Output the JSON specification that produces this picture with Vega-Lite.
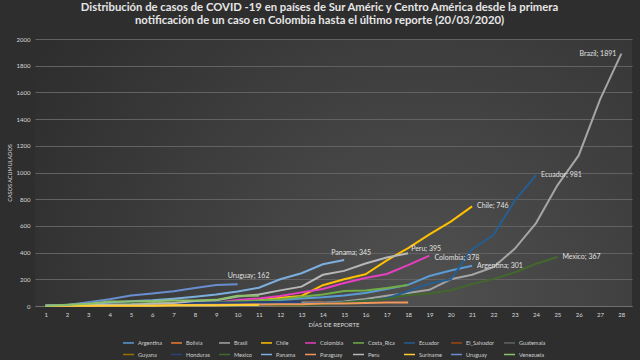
{
"$schema": "https://vega.github.io/schema/vega-lite/v6.json",
"width": 597,
"height": 267,
"autosize": {"type": "none"},
"padding": {"left": 35, "top": 39, "right": 8, "bottom": 54},
"background": "#2e2e2e",
"title": {"text": ["Distribución de casos de COVID -19 en países de Sur  Améric y Centro América desde la primera", "notificación de un caso en Colombia hasta el último reporte (20/03/2020)"], "color": "#e6e6e6", "font": "Lato", "fontSize": 11.3, "fontWeight": "bold", "anchor": "middle", "offset": 10, "dx": -14, "lineHeight": 13},
"config": {
  "view": {"stroke": null, "fill": {"gradient": "radial", "x1": 0.65, "y1": 0.7, "r1": 0, "x2": 0.65, "y2": 0.7, "r2": 0.75, "stops": [{"offset": 0, "color": "#505050"}, {"offset": 1, "color": "#2e2e2e"}]}},
  "font": "Lato"
},
"datasets": {
"serie": [
{"pais":"Argentina","dia":1,"casos":1},{"pais":"Argentina","dia":2,"casos":1},{"pais":"Argentina","dia":3,"casos":2},{"pais":"Argentina","dia":4,"casos":8},{"pais":"Argentina","dia":5,"casos":9},{"pais":"Argentina","dia":6,"casos":12},{"pais":"Argentina","dia":7,"casos":17},{"pais":"Argentina","dia":8,"casos":19},{"pais":"Argentina","dia":9,"casos":21},{"pais":"Argentina","dia":10,"casos":31},{"pais":"Argentina","dia":11,"casos":34},{"pais":"Argentina","dia":12,"casos":45},{"pais":"Argentina","dia":13,"casos":56},{"pais":"Argentina","dia":14,"casos":65},{"pais":"Argentina","dia":15,"casos":79},{"pais":"Argentina","dia":16,"casos":97},{"pais":"Argentina","dia":17,"casos":128},{"pais":"Argentina","dia":18,"casos":158},{"pais":"Argentina","dia":19,"casos":225},{"pais":"Argentina","dia":20,"casos":266},{"pais":"Argentina","dia":21,"casos":301},
{"pais":"Bolivia","dia":1,"casos":2},{"pais":"Bolivia","dia":2,"casos":2},{"pais":"Bolivia","dia":3,"casos":3},{"pais":"Bolivia","dia":4,"casos":10},{"pais":"Bolivia","dia":5,"casos":10},{"pais":"Bolivia","dia":6,"casos":10},{"pais":"Bolivia","dia":7,"casos":11},{"pais":"Bolivia","dia":8,"casos":11},{"pais":"Bolivia","dia":9,"casos":12},{"pais":"Bolivia","dia":10,"casos":15},{"pais":"Bolivia","dia":11,"casos":19},{"pais":"Bolivia","dia":12,"casos":19},{"pais":"Bolivia","dia":13,"casos":24},{"pais":"Bolivia","dia":14,"casos":27},
{"pais":"Brasil","dia":1,"casos":1},{"pais":"Brasil","dia":2,"casos":1},{"pais":"Brasil","dia":3,"casos":1},{"pais":"Brasil","dia":4,"casos":1},{"pais":"Brasil","dia":5,"casos":2},{"pais":"Brasil","dia":6,"casos":2},{"pais":"Brasil","dia":7,"casos":2},{"pais":"Brasil","dia":8,"casos":2},{"pais":"Brasil","dia":9,"casos":3},{"pais":"Brasil","dia":10,"casos":8},{"pais":"Brasil","dia":11,"casos":13},{"pais":"Brasil","dia":12,"casos":19},{"pais":"Brasil","dia":13,"casos":25},{"pais":"Brasil","dia":14,"casos":25},{"pais":"Brasil","dia":15,"casos":34},{"pais":"Brasil","dia":16,"casos":52},{"pais":"Brasil","dia":17,"casos":77},{"pais":"Brasil","dia":18,"casos":98},{"pais":"Brasil","dia":19,"casos":121},{"pais":"Brasil","dia":20,"casos":200},{"pais":"Brasil","dia":21,"casos":234},{"pais":"Brasil","dia":22,"casos":291},{"pais":"Brasil","dia":23,"casos":428},{"pais":"Brasil","dia":24,"casos":621},{"pais":"Brasil","dia":25,"casos":904},{"pais":"Brasil","dia":26,"casos":1128},{"pais":"Brasil","dia":27,"casos":1546},{"pais":"Brasil","dia":28,"casos":1891},
{"pais":"Chile","dia":1,"casos":1},{"pais":"Chile","dia":2,"casos":3},{"pais":"Chile","dia":3,"casos":4},{"pais":"Chile","dia":4,"casos":5},{"pais":"Chile","dia":5,"casos":7},{"pais":"Chile","dia":6,"casos":10},{"pais":"Chile","dia":7,"casos":13},{"pais":"Chile","dia":8,"casos":17},{"pais":"Chile","dia":9,"casos":23},{"pais":"Chile","dia":10,"casos":33},{"pais":"Chile","dia":11,"casos":43},{"pais":"Chile","dia":12,"casos":61},{"pais":"Chile","dia":13,"casos":75},{"pais":"Chile","dia":14,"casos":156},{"pais":"Chile","dia":15,"casos":201},{"pais":"Chile","dia":16,"casos":238},{"pais":"Chile","dia":17,"casos":342},{"pais":"Chile","dia":18,"casos":434},{"pais":"Chile","dia":19,"casos":537},{"pais":"Chile","dia":20,"casos":632},{"pais":"Chile","dia":21,"casos":746},
{"pais":"Colombia","dia":1,"casos":1},{"pais":"Colombia","dia":2,"casos":1},{"pais":"Colombia","dia":3,"casos":1},{"pais":"Colombia","dia":4,"casos":3},{"pais":"Colombia","dia":5,"casos":3},{"pais":"Colombia","dia":6,"casos":9},{"pais":"Colombia","dia":7,"casos":9},{"pais":"Colombia","dia":8,"casos":16},{"pais":"Colombia","dia":9,"casos":24},{"pais":"Colombia","dia":10,"casos":45},{"pais":"Colombia","dia":11,"casos":57},{"pais":"Colombia","dia":12,"casos":75},{"pais":"Colombia","dia":13,"casos":102},{"pais":"Colombia","dia":14,"casos":128},{"pais":"Colombia","dia":15,"casos":172},{"pais":"Colombia","dia":16,"casos":210},{"pais":"Colombia","dia":17,"casos":240},{"pais":"Colombia","dia":18,"casos":306},{"pais":"Colombia","dia":19,"casos":378},
{"pais":"Costa_Rica","dia":1,"casos":1},{"pais":"Costa_Rica","dia":2,"casos":5},{"pais":"Costa_Rica","dia":3,"casos":9},{"pais":"Costa_Rica","dia":4,"casos":9},{"pais":"Costa_Rica","dia":5,"casos":13},{"pais":"Costa_Rica","dia":6,"casos":22},{"pais":"Costa_Rica","dia":7,"casos":23},{"pais":"Costa_Rica","dia":8,"casos":26},{"pais":"Costa_Rica","dia":9,"casos":27},{"pais":"Costa_Rica","dia":10,"casos":35},{"pais":"Costa_Rica","dia":11,"casos":41},{"pais":"Costa_Rica","dia":12,"casos":50},{"pais":"Costa_Rica","dia":13,"casos":69},{"pais":"Costa_Rica","dia":14,"casos":87},{"pais":"Costa_Rica","dia":15,"casos":113},{"pais":"Costa_Rica","dia":16,"casos":117},{"pais":"Costa_Rica","dia":17,"casos":134},{"pais":"Costa_Rica","dia":18,"casos":158},
{"pais":"Ecuador","dia":1,"casos":1},{"pais":"Ecuador","dia":2,"casos":6},{"pais":"Ecuador","dia":3,"casos":7},{"pais":"Ecuador","dia":4,"casos":7},{"pais":"Ecuador","dia":5,"casos":10},{"pais":"Ecuador","dia":6,"casos":13},{"pais":"Ecuador","dia":7,"casos":13},{"pais":"Ecuador","dia":8,"casos":14},{"pais":"Ecuador","dia":9,"casos":15},{"pais":"Ecuador","dia":10,"casos":15},{"pais":"Ecuador","dia":11,"casos":15},{"pais":"Ecuador","dia":12,"casos":17},{"pais":"Ecuador","dia":13,"casos":17},{"pais":"Ecuador","dia":14,"casos":23},{"pais":"Ecuador","dia":15,"casos":28},{"pais":"Ecuador","dia":16,"casos":37},{"pais":"Ecuador","dia":17,"casos":58},{"pais":"Ecuador","dia":18,"casos":111},{"pais":"Ecuador","dia":19,"casos":168},{"pais":"Ecuador","dia":20,"casos":199},{"pais":"Ecuador","dia":21,"casos":426},{"pais":"Ecuador","dia":22,"casos":532},{"pais":"Ecuador","dia":23,"casos":789},{"pais":"Ecuador","dia":24,"casos":981},
{"pais":"El_Salvador","dia":1,"casos":1},{"pais":"El_Salvador","dia":2,"casos":1},{"pais":"El_Salvador","dia":3,"casos":3},{"pais":"El_Salvador","dia":4,"casos":3},{"pais":"El_Salvador","dia":5,"casos":5},{"pais":"El_Salvador","dia":6,"casos":5},
{"pais":"Guatemala","dia":1,"casos":1},{"pais":"Guatemala","dia":2,"casos":1},{"pais":"Guatemala","dia":3,"casos":2},{"pais":"Guatemala","dia":4,"casos":6},{"pais":"Guatemala","dia":5,"casos":6},{"pais":"Guatemala","dia":6,"casos":9},{"pais":"Guatemala","dia":7,"casos":12},{"pais":"Guatemala","dia":8,"casos":17},{"pais":"Guatemala","dia":9,"casos":19},{"pais":"Guatemala","dia":10,"casos":20},{"pais":"Guatemala","dia":11,"casos":21},
{"pais":"Guyana","dia":1,"casos":1},{"pais":"Guyana","dia":2,"casos":1},{"pais":"Guyana","dia":3,"casos":1},{"pais":"Guyana","dia":4,"casos":1},{"pais":"Guyana","dia":5,"casos":1},{"pais":"Guyana","dia":6,"casos":4},{"pais":"Guyana","dia":7,"casos":4},{"pais":"Guyana","dia":8,"casos":7},{"pais":"Guyana","dia":9,"casos":7},{"pais":"Guyana","dia":10,"casos":7},{"pais":"Guyana","dia":11,"casos":7},{"pais":"Guyana","dia":12,"casos":5},{"pais":"Guyana","dia":13,"casos":5},
{"pais":"Honduras","dia":1,"casos":2},{"pais":"Honduras","dia":2,"casos":2},{"pais":"Honduras","dia":3,"casos":3},{"pais":"Honduras","dia":4,"casos":6},{"pais":"Honduras","dia":5,"casos":8},{"pais":"Honduras","dia":6,"casos":9},{"pais":"Honduras","dia":7,"casos":12},{"pais":"Honduras","dia":8,"casos":24},{"pais":"Honduras","dia":9,"casos":26},{"pais":"Honduras","dia":10,"casos":26},{"pais":"Honduras","dia":11,"casos":30},{"pais":"Honduras","dia":12,"casos":30},{"pais":"Honduras","dia":13,"casos":30},
{"pais":"Mexico","dia":1,"casos":2},{"pais":"Mexico","dia":2,"casos":4},{"pais":"Mexico","dia":3,"casos":5},{"pais":"Mexico","dia":4,"casos":5},{"pais":"Mexico","dia":5,"casos":5},{"pais":"Mexico","dia":6,"casos":5},{"pais":"Mexico","dia":7,"casos":5},{"pais":"Mexico","dia":8,"casos":6},{"pais":"Mexico","dia":9,"casos":6},{"pais":"Mexico","dia":10,"casos":7},{"pais":"Mexico","dia":11,"casos":7},{"pais":"Mexico","dia":12,"casos":7},{"pais":"Mexico","dia":13,"casos":8},{"pais":"Mexico","dia":14,"casos":12},{"pais":"Mexico","dia":15,"casos":26},{"pais":"Mexico","dia":16,"casos":41},{"pais":"Mexico","dia":17,"casos":53},{"pais":"Mexico","dia":18,"casos":82},{"pais":"Mexico","dia":19,"casos":93},{"pais":"Mexico","dia":20,"casos":118},{"pais":"Mexico","dia":21,"casos":164},{"pais":"Mexico","dia":22,"casos":203},{"pais":"Mexico","dia":23,"casos":251},{"pais":"Mexico","dia":24,"casos":316},{"pais":"Mexico","dia":25,"casos":367},
{"pais":"Panama","dia":1,"casos":1},{"pais":"Panama","dia":2,"casos":8},{"pais":"Panama","dia":3,"casos":14},{"pais":"Panama","dia":4,"casos":27},{"pais":"Panama","dia":5,"casos":36},{"pais":"Panama","dia":6,"casos":43},{"pais":"Panama","dia":7,"casos":55},{"pais":"Panama","dia":8,"casos":69},{"pais":"Panama","dia":9,"casos":86},{"pais":"Panama","dia":10,"casos":109},{"pais":"Panama","dia":11,"casos":137},{"pais":"Panama","dia":12,"casos":200},{"pais":"Panama","dia":13,"casos":245},{"pais":"Panama","dia":14,"casos":313},{"pais":"Panama","dia":15,"casos":345},
{"pais":"Paraguay","dia":1,"casos":1},{"pais":"Paraguay","dia":2,"casos":1},{"pais":"Paraguay","dia":3,"casos":1},{"pais":"Paraguay","dia":4,"casos":5},{"pais":"Paraguay","dia":5,"casos":5},{"pais":"Paraguay","dia":6,"casos":5},{"pais":"Paraguay","dia":7,"casos":6},{"pais":"Paraguay","dia":8,"casos":7},{"pais":"Paraguay","dia":9,"casos":8},{"pais":"Paraguay","dia":10,"casos":9},{"pais":"Paraguay","dia":11,"casos":11},{"pais":"Paraguay","dia":12,"casos":13},{"pais":"Paraguay","dia":13,"casos":13},{"pais":"Paraguay","dia":14,"casos":18},{"pais":"Paraguay","dia":15,"casos":18},{"pais":"Paraguay","dia":16,"casos":22},{"pais":"Paraguay","dia":17,"casos":27},{"pais":"Paraguay","dia":18,"casos":27},
{"pais":"Peru","dia":1,"casos":1},{"pais":"Peru","dia":2,"casos":6},{"pais":"Peru","dia":3,"casos":7},{"pais":"Peru","dia":4,"casos":9},{"pais":"Peru","dia":5,"casos":11},{"pais":"Peru","dia":6,"casos":17},{"pais":"Peru","dia":7,"casos":22},{"pais":"Peru","dia":8,"casos":38},{"pais":"Peru","dia":9,"casos":43},{"pais":"Peru","dia":10,"casos":71},{"pais":"Peru","dia":11,"casos":86},{"pais":"Peru","dia":12,"casos":117},{"pais":"Peru","dia":13,"casos":145},{"pais":"Peru","dia":14,"casos":234},{"pais":"Peru","dia":15,"casos":263},{"pais":"Peru","dia":16,"casos":318},{"pais":"Peru","dia":17,"casos":363},{"pais":"Peru","dia":18,"casos":395},
{"pais":"Suriname","dia":1,"casos":1},{"pais":"Suriname","dia":2,"casos":1},{"pais":"Suriname","dia":3,"casos":1},{"pais":"Suriname","dia":4,"casos":1},{"pais":"Suriname","dia":5,"casos":1},{"pais":"Suriname","dia":6,"casos":1},{"pais":"Suriname","dia":7,"casos":5},{"pais":"Suriname","dia":8,"casos":5},{"pais":"Suriname","dia":9,"casos":5},{"pais":"Suriname","dia":10,"casos":8},{"pais":"Suriname","dia":11,"casos":8},
{"pais":"Uruguay","dia":1,"casos":6},{"pais":"Uruguay","dia":2,"casos":8},{"pais":"Uruguay","dia":3,"casos":29},{"pais":"Uruguay","dia":4,"casos":50},{"pais":"Uruguay","dia":5,"casos":79},{"pais":"Uruguay","dia":6,"casos":94},{"pais":"Uruguay","dia":7,"casos":110},{"pais":"Uruguay","dia":8,"casos":135},{"pais":"Uruguay","dia":9,"casos":158},{"pais":"Uruguay","dia":10,"casos":162},
{"pais":"Venezuela","dia":1,"casos":2},{"pais":"Venezuela","dia":2,"casos":10},{"pais":"Venezuela","dia":3,"casos":17},{"pais":"Venezuela","dia":4,"casos":33},{"pais":"Venezuela","dia":5,"casos":33},{"pais":"Venezuela","dia":6,"casos":36},{"pais":"Venezuela","dia":7,"casos":42},{"pais":"Venezuela","dia":8,"casos":42},{"pais":"Venezuela","dia":9,"casos":46},{"pais":"Venezuela","dia":10,"casos":77},{"pais":"Venezuela","dia":11,"casos":77}
],
"etiquetas": [
{"pais":"Brasil","dia":28,"casos":1891,"etiqueta":"Brazil; 1891"},
{"pais":"Ecuador","dia":24,"casos":981,"etiqueta":"Ecuador; 981"},
{"pais":"Chile","dia":21,"casos":746,"etiqueta":"Chile; 746"},
{"pais":"Peru","dia":18,"casos":395,"etiqueta":"Peru; 395"},
{"pais":"Colombia","dia":19,"casos":378,"etiqueta":"Colombia; 378"},
{"pais":"Mexico","dia":25,"casos":367,"etiqueta":"Mexico; 367"},
{"pais":"Panama","dia":15,"casos":345,"etiqueta":"Panama; 345"},
{"pais":"Argentina","dia":21,"casos":301,"etiqueta":"Argentina; 301"},
{"pais":"Uruguay","dia":10,"casos":162,"etiqueta":"Uruguay; 162"}
]
},
"encoding": {
  "x": {"field": "dia", "type": "quantitative", "scale": {"domain": [0.5, 28.5], "nice": false, "zero": false},
        "axis": {"values": [1,2,3,4,5,6,7,8,9,10,11,12,13,14,15,16,17,18,19,20,21,22,23,24,25,26,27,28], "format": "d", "grid": false, "ticks": false, "domain": true, "domainColor": "#707070", "labelColor": "#d9d9d9", "labelFontSize": 6, "labelPadding": 5, "title": "DÍAS DE REPORTE", "titleColor": "#d9d9d9", "titleFontSize": 6, "titleFontWeight": "normal", "titlePadding": 4}},
  "y": {"field": "casos", "type": "quantitative", "scale": {"domain": [0, 2000], "nice": false},
        "axis": {"values": [0,200,400,600,800,1000,1200,1400,1600,1800,2000], "format": "d", "grid": true, "gridColor": "#626262", "gridWidth": 1, "ticks": false, "domain": false, "labelColor": "#d9d9d9", "labelFontSize": 6, "labelPadding": 5, "title": "CASOS ACUMULADOS", "titleColor": "#d9d9d9", "titleFontSize": 5.5, "titleFontWeight": "normal", "titlePadding": 4}}
},
"layer": [
  {"data": {"name": "serie"},
   "mark": {"type": "line", "strokeWidth": 2},
   "encoding": {
     "color": {"field": "pais", "type": "nominal",
       "scale": {"domain": ["Argentina","Bolivia","Brasil","Chile","Colombia","Costa_Rica","Ecuador","El_Salvador","Guatemala","Guyana","Honduras","Mexico","Panama","Paraguay","Peru","Suriname","Uruguay","Venezuela"],
                 "range": ["#5B9BD5","#ED7D31","#A5A5A5","#FFC000","#E83EC0","#70AD47","#255E91","#9E480E","#636363","#997300","#264478","#43682B","#7CAFDD","#F1975A","#B7B7B7","#FFCD33","#698ED0","#8CC168"]},
       "legend": {"orient": "none", "legendX": 87, "legendY": 297, "direction": "horizontal", "columns": 9, "gridAlign": "each", "title": null, "symbolType": "stroke", "symbolSize": 120, "symbolStrokeWidth": 1.5, "labelFontSize": 5.6, "labelColor": "#cfcfcf", "labelOffset": 3, "columnPadding": 6, "rowPadding": 1, "labelLimit": 40}}
   }},
  {"data": {"name": "etiquetas"}, "transform": [{"filter": "datum.pais === 'Brasil'"}],
   "mark": {"type": "text", "align": "right", "dx": -5, "fontSize": 7, "color": "#e0e0e0"},
   "encoding": {"text": {"field": "etiqueta"}}},
  {"data": {"name": "etiquetas"}, "transform": [{"filter": "indexof(['Ecuador','Chile','Argentina','Mexico'], datum.pais) >= 0"}],
   "mark": {"type": "text", "align": "left", "dx": 5, "fontSize": 7, "color": "#e0e0e0"},
   "encoding": {"text": {"field": "etiqueta"}}},
  {"data": {"name": "etiquetas"}, "transform": [{"filter": "datum.pais === 'Colombia'"}],
   "mark": {"type": "text", "align": "left", "dx": 5, "dy": 2, "fontSize": 7, "color": "#e0e0e0"},
   "encoding": {"text": {"field": "etiqueta"}}},
  {"data": {"name": "etiquetas"}, "transform": [{"filter": "datum.pais === 'Peru'"}],
   "mark": {"type": "text", "align": "left", "dx": 3, "dy": -4, "fontSize": 7, "color": "#e0e0e0"},
   "encoding": {"text": {"field": "etiqueta"}}},
  {"data": {"name": "etiquetas"}, "transform": [{"filter": "datum.pais === 'Panama'"}],
   "mark": {"type": "text", "align": "center", "dx": 7, "dy": -7, "fontSize": 7, "color": "#e0e0e0"},
   "encoding": {"text": {"field": "etiqueta"}}},
  {"data": {"name": "etiquetas"}, "transform": [{"filter": "datum.pais === 'Uruguay'"}],
   "mark": {"type": "text", "align": "center", "dx": 11, "dy": -8, "fontSize": 7, "color": "#e0e0e0"},
   "encoding": {"text": {"field": "etiqueta"}}}
]
}
